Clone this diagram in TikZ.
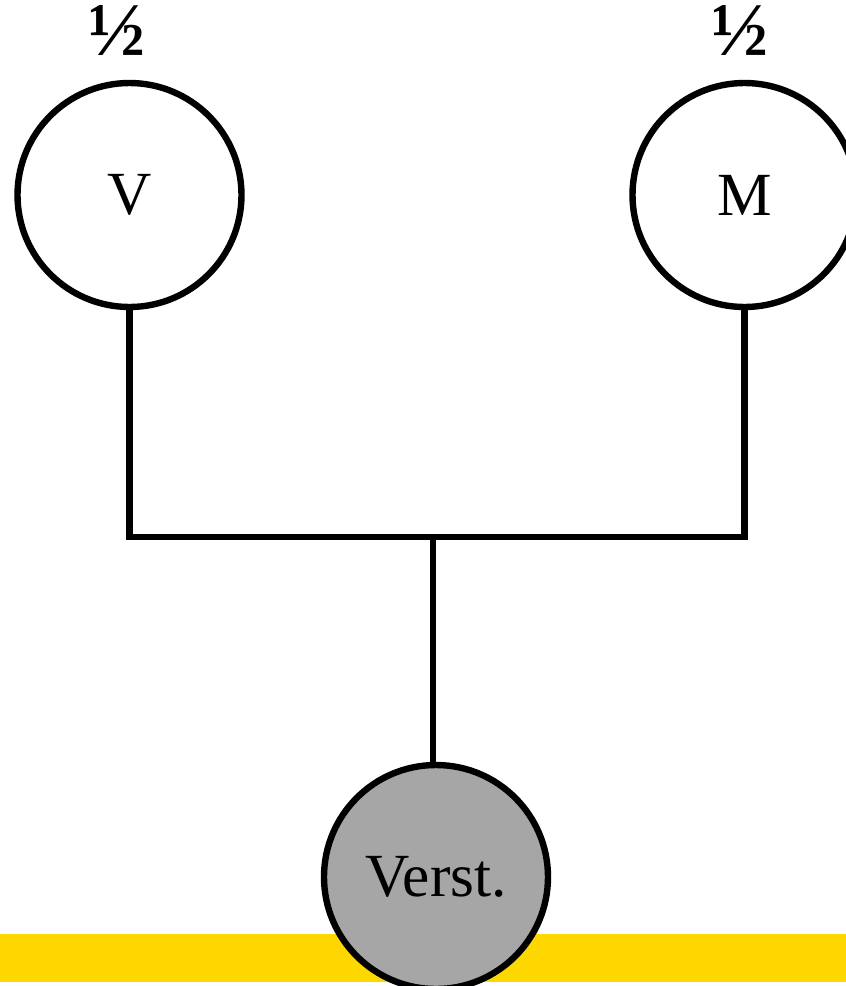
\documentclass[tikz,border=0pt]{standalone}
\usepackage{fontspec}
\setmainfont{Liberation Serif}
\definecolor{barYellow}{HTML}{FFD700}
\definecolor{nodeGrey}{HTML}{A6A6A6}
\begin{document}
\begin{tikzpicture}[x=0.75pt,y=-0.75pt,
  person/.style={circle,draw=black,line width=4.8pt,minimum size=168pt,inner sep=0pt,font=\fontsize{46}{50}\selectfont},
  frac/.style={font=\fontsize{57}{60}\selectfont\bfseries,inner sep=0pt,anchor=base},
  link/.style={line width=4.8pt}]
\useasboundingbox (0,0) rectangle (846,986);
\clip (0,0) rectangle (846,986);
\fill[barYellow] (0,934) rectangle (846,982);
\node[person,fill=white] (V) at (129.5,195) {V};
\node[person,fill=white] (M) at (744.5,195) {M};
\node[person,fill=nodeGrey] (S) at (436,877) {Verst.};
\node[frac] (fv) at (117,55) {½};
\node[frac] (fm) at (740,55) {½};
\coordinate (j) at (433,537);
\draw[link] (V.south) |- (j) -| (M.south);
\draw[link] (j) -- (j |- S.north);
\end{tikzpicture}
\end{document}
